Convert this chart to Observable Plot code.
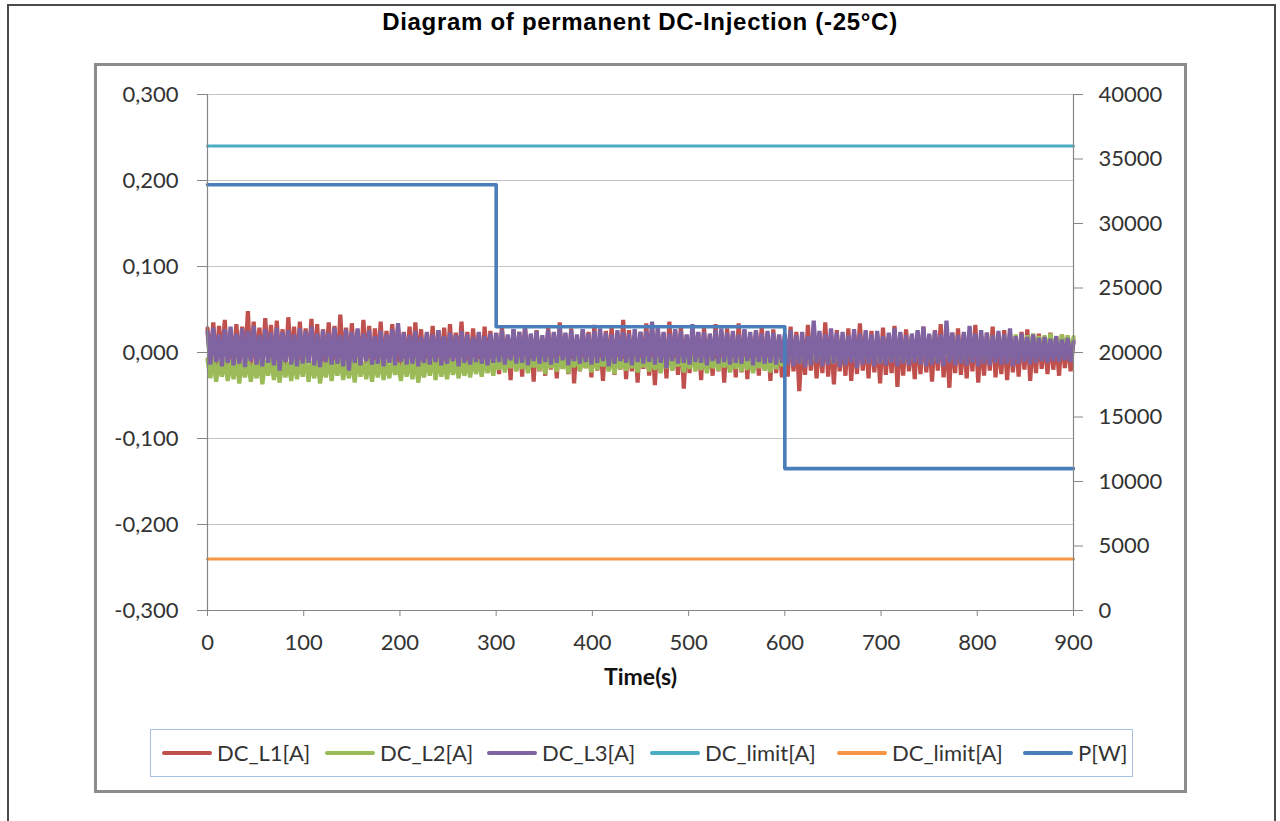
<!DOCTYPE html>
<html>
<head>
<meta charset="utf-8">
<script src="https://cdn.jsdelivr.net/npm/d3@7"></script>
<script src="https://cdn.jsdelivr.net/npm/@observablehq/plot@0.6"></script>
<style>
  html, body { margin: 0; padding: 0; background: #fff; }
  body { width: 1280px; height: 821px; overflow: hidden; position: relative; font-family: Lato, "Open Sans", sans-serif; }
  #outer { position: absolute; left: 7px; top: 4px; width: 1269px; height: 900px; border: 2px solid #4a4a4a; box-sizing: border-box; }
  #title { position: absolute; left: 0; top: 10px; width: 1280px; text-align: center; font: bold 24px/24px "Liberation Sans", Arial, sans-serif; letter-spacing: 0.7px; color: #000; }
  #frame { position: absolute; left: 94px; top: 63px; width: 1093px; height: 730px; border: 3px solid #8c8c8c; box-sizing: border-box; }
  #chart { position: absolute; left: 0; top: 0; }
  #legend { position: absolute; left: 150px; top: 729px; width: 983px; height: 48px; border: 1.5px solid #a7c1e3; box-sizing: border-box; }
  .item { position: absolute; top: 0; height: 45px; display: flex; align-items: center; font-size: 22px; color: #333; white-space: nowrap; }
  .sw { width: 50px; height: 4px; border-radius: 2px; margin-right: 5px; }
</style>
</head>
<body>
<div id="outer"></div>
<div id="title">Diagram of permanent DC-Injection (-25°C)</div>
<div id="frame"></div>
<div id="chart"></div>
<div id="legend"></div>
<script>
// ---- data ----
const T_STEP = 3; // seconds between samples of the DC current series
const xTicks = [0, 100, 200, 300, 400, 500, 600, 700, 800, 900];
const yTicks = [-0.3, -0.2, -0.1, 0, 0.1, 0.2, 0.3];
const pTicks = [0, 5000, 10000, 15000, 20000, 25000, 30000, 35000, 40000];

const seriesNames = ["DC_L1[A]", "DC_L2[A]", "DC_L3[A]", "DC_limit[A]", "DC_limit[A]", "P[W]"];
const seriesColors = ["#c0504d", "#9bbb59", "#8064a2", "#4bacc6", "#f79646", "#4a7ebb"];

const DC_L1 = [
 .028,-.012,.035,-.018,.031,-.008,.038,-.022,.026,-.015,
 .033,-.020,.030,-.010,.048,-.025,.036,-.014,.029,-.019,
 .040,-.012,.032,-.027,.037,-.016,.027,-.021,.041,-.013,
 .030,-.018,.036,-.024,.028,-.011,.039,-.017,.033,-.030,
 .027,-.014,.035,-.019,.031,-.022,.044,-.012,.029,-.026,
 .034,-.016,.026,-.020,.038,-.013,.031,-.025,.028,-.017,
 .036,-.021,.025,-.012,.033,-.018,.029,-.028,.024,-.015,
 .030,-.019,.035,-.014,.027,-.023,.022,-.016,.031,-.020,
 .026,-.012,.029,-.024,.033,-.017,.023,-.013,.036,-.021,
 .024,-.018,.028,-.015,.022,-.026,.030,-.014,.025,-.019,
 .022,-.025,.030,-.019,.018,-.032,.027,-.021,.024,-.028,
 .031,-.018,.020,-.034,.026,-.022,.017,-.027,.029,-.020,
 .023,-.030,.035,-.019,.021,-.025,.028,-.036,.019,-.022,
 .027,-.018,.024,-.029,.032,-.021,.018,-.033,.025,-.019,
 .030,-.026,.022,-.020,.038,-.031,.026,-.022,.020,-.035,
 .024,-.019,.034,-.027,.019,-.038,.028,-.023,.022,-.030,
 .036,-.021,.025,-.026,.031,-.042,.020,-.024,.027,-.019,
 .023,-.032,.029,-.020,.018,-.027,.033,-.022,.024,-.035,
 .028,-.019,.021,-.029,.034,-.023,.026,-.031,.019,-.021,
 .025,-.027,.030,-.020,.022,-.033,.027,-.024,.020,-.029,
 .018,-.028,.030,-.022,.024,-.045,.016,-.026,.032,-.021,
 .022,-.030,.019,-.024,.035,-.028,.020,-.037,.026,-.022,
 .017,-.027,.028,-.033,.021,-.025,.034,-.021,.019,-.030,
 .025,-.023,.020,-.036,.029,-.026,.018,-.024,.031,-.040,
 .022,-.027,.027,-.022,.019,-.031,.024,-.025,.030,-.023,
 .020,-.034,.026,-.021,.033,-.029,.018,-.041,.023,-.024,
 .028,-.026,.021,-.030,.024,-.022,.032,-.035,.019,-.027,
 .023,-.021,.030,-.029,.017,-.025,.026,-.032,.021,-.023,
 .019,-.028,.024,-.020,.027,-.033,.020,-.024,.022,-.019,
 .018,-.025,.023,-.020,.016,-.027,.021,-.018,.017,-.022,
 .015
];

const DC_L2 = [
 -.008,-.030,-.006,-.034,-.010,-.028,-.007,-.033,-.009,-.031,
 -.005,-.036,-.011,-.029,-.007,-.034,-.012,-.030,-.006,-.037,
 -.009,-.027,-.006,-.032,-.010,-.035,-.008,-.029,-.011,-.033,
 -.007,-.031,-.009,-.028,-.005,-.034,-.010,-.030,-.008,-.036,
 -.011,-.029,-.006,-.033,-.009,-.027,-.007,-.032,-.010,-.030,
 -.008,-.035,-.005,-.028,-.011,-.031,-.007,-.034,-.009,-.029,
 -.006,-.032,-.010,-.030,-.008,-.026,-.012,-.033,-.007,-.028,
 -.009,-.031,-.006,-.035,-.010,-.029,-.008,-.027,-.005,-.032,
 -.007,-.028,-.011,-.031,-.006,-.026,-.009,-.030,-.008,-.027,
 -.010,-.029,-.005,-.025,-.008,-.028,-.006,-.024,-.009,-.027,
 -.005,-.020,-.003,-.023,-.007,-.018,-.004,-.022,-.006,-.019,
 -.004,-.024,-.008,-.017,-.005,-.021,-.003,-.025,-.006,-.018,
 -.007,-.022,-.004,-.019,-.005,-.024,-.008,-.017,-.003,-.021,
 -.006,-.018,-.005,-.023,-.004,-.020,-.007,-.016,-.005,-.022,
 -.003,-.025,-.006,-.019,-.008,-.021,-.004,-.018,-.005,-.023,
 -.007,-.017,-.003,-.022,-.006,-.020,-.005,-.024,-.004,-.018,
 -.005,-.021,-.007,-.016,-.004,-.023,-.006,-.019,-.003,-.022,
 -.006,-.020,-.004,-.024,-.005,-.018,-.008,-.021,-.006,-.017,
 -.004,-.023,-.006,-.019,-.003,-.022,-.005,-.020,-.007,-.024,
 -.005,-.018,-.004,-.021,-.006,-.023,-.003,-.019,-.002,-.016,
 .006,-.012,.010,-.009,.008,-.013,.011,-.010,.009,-.014,
 .012,-.008,.010,-.011,.013,-.009,.011,-.013,.014,-.010,
 .010,-.012,.015,-.008,.012,-.011,.013,-.009,.016,-.012,
 .011,-.010,.014,-.013,.012,-.008,.015,-.011,.013,-.009,
 .016,-.012,.013,-.010,.017,-.009,.014,-.012,.015,-.008,
 .013,-.011,.016,-.009,.014,-.012,.018,-.010,.015,-.008,
 .017,-.010,.015,-.007,.018,-.011,.016,-.006,.019,-.009,
 .016,-.005,.020,-.008,.017,-.004,.019,-.007,.018,-.003,
 .021,-.006,.018,-.002,.020,-.005,.022,-.003,.019,-.001,
 .020,-.004,.022,-.001,.019,-.003,.021,.000,.020,-.002,
 .018
];

const DC_L3 = [
 .024,-.014,.029,-.011,.021,-.016,.027,-.012,.030,-.015,
 .022,-.013,.028,-.017,.025,-.010,.031,-.014,.020,-.016,
 .027,-.012,.023,-.015,.029,-.021,.024,-.011,.026,-.014,
 .021,-.016,.028,-.013,.025,-.012,.030,-.015,.022,-.017,
 .026,-.011,.023,-.014,.029,-.013,.020,-.016,.027,-.021,
 .024,-.012,.028,-.015,.022,-.010,.026,-.014,.019,-.013,
 .025,-.016,.021,-.012,.027,-.015,.034,-.011,.023,-.014,
 .020,-.013,.025,-.016,.018,-.012,.024,-.014,.021,-.011,
 .026,-.015,.019,-.013,.023,-.010,.020,-.016,.025,-.012,
 .021,-.014,.018,-.011,.024,-.013,.019,-.015,.022,-.012,
 .023,-.011,.026,-.014,.021,-.009,.027,-.013,.024,-.012,
 .028,-.015,.022,-.010,.025,-.013,.020,-.011,.026,-.014,
 .024,-.012,.029,-.009,.023,-.015,.026,-.010,.021,-.013,
 .027,-.011,.022,-.014,.025,-.012,.028,-.010,.023,-.016,
 .021,-.013,.026,-.010,.024,-.012,.022,-.015,.027,-.011,
 .024,-.013,.025,-.011,.036,-.014,.028,-.012,.024,-.018,
 .022,-.010,.027,-.013,.025,-.012,.021,-.014,.033,-.011,
 .024,-.012,.024,-.015,.022,-.010,.026,-.013,.028,-.011,
 .023,-.014,.025,-.012,.021,-.013,.027,-.010,.024,-.015,
 .026,-.011,.022,-.013,.025,-.012,.023,-.014,.021,-.012,
 .022,-.014,.026,-.016,.020,-.013,.024,-.017,.019,-.015,
 .037,-.012,.025,-.016,.021,-.014,.028,-.013,.023,-.017,
 .024,-.015,.020,-.012,.027,-.018,.022,-.014,.026,-.013,
 .021,-.016,.025,-.013,.019,-.015,.023,-.012,.028,-.016,
 .024,-.013,.020,-.015,.022,-.012,.026,-.014,.030,-.016,
 .022,-.014,.025,-.013,.021,-.016,.037,-.012,.023,-.015,
 .020,-.013,.024,-.015,.031,-.012,.022,-.016,.026,-.013,
 .023,-.015,.020,-.012,.025,-.014,.021,-.013,.028,-.016,
 .019,-.013,.022,-.011,.018,-.014,.021,-.012,.017,-.010,
 .018,-.012,.016,-.010,.019,-.011,.015,-.009,.017,-.011,
 .012
];

const limitTime = [0, 900];
const DC_limit_hi = [0.24, 0.24];
const DC_limit_lo = [-0.24, -0.24];

const P_time = [0, 300, 300, 600, 600, 900];
const P_W = [33000, 33000, 22000, 22000, 11000, 11000];

// ---- helpers ----
const P_MAX = 40000;
const pToY = p => -0.3 + p * 0.6 / P_MAX;              // secondary axis mapped onto the primary one
const yToP = y => Math.round((y + 0.3) * P_MAX / 0.6);
const sampled = arr => arr.map((v, i) => ({t: i * T_STEP, v}));
const paired = (ts, vs) => ts.map((t, i) => ({t, v: vs[i]}));
const fmtA = d => d.toFixed(3).replace(".", ",");

const AXIS = "#868686";
const TXT = "#333";
const NOISE_W = 4.2;

const plot = Plot.plot({
  width: 1280,
  height: 700,
  marginLeft: 207,
  marginRight: 207,
  marginTop: 94,
  marginBottom: 90,
  x: {domain: [0, 900]},
  y: {domain: [-0.3, 0.3]},
  style: {background: "transparent", fontFamily: "Lato, 'Open Sans', sans-serif", fontSize: "22px", color: TXT, overflow: "visible"},
  marks: [
    Plot.gridY(yTicks, {stroke: "#c4c4c4", strokeOpacity: 1, strokeWidth: 1}),
    Plot.line(sampled(DC_L1), {x: "t", y: "v", stroke: seriesColors[0], strokeWidth: NOISE_W, strokeLinejoin: "miter"}),
    Plot.line(sampled(DC_L2), {x: "t", y: "v", stroke: seriesColors[1], strokeWidth: NOISE_W, strokeLinejoin: "miter"}),
    Plot.line(sampled(DC_L3), {x: "t", y: "v", stroke: seriesColors[2], strokeWidth: NOISE_W, strokeLinejoin: "miter"}),
    Plot.line(paired(limitTime, DC_limit_hi), {x: "t", y: "v", stroke: seriesColors[3], strokeWidth: 3}),
    Plot.line(paired(limitTime, DC_limit_lo), {x: "t", y: "v", stroke: seriesColors[4], strokeWidth: 3}),
    Plot.line(paired(P_time, P_W), {x: "t", y: d => pToY(d.v), stroke: seriesColors[5], strokeWidth: 3.6, curve: "linear"}),
    Plot.ruleX([0], {stroke: AXIS, strokeWidth: 1.2}),
    Plot.ruleX([900], {stroke: AXIS, strokeWidth: 1.2}),
    Plot.ruleY([-0.3], {stroke: AXIS, strokeWidth: 1.2}),
    Plot.axisY(yTicks, {anchor: "left", tickSize: 10, tickPadding: 19, tickFormat: fmtA, stroke: AXIS, fill: TXT, label: null, fontSize: 22}),
    Plot.axisY(pTicks.map(pToY), {anchor: "right", tickSize: 9, tickPadding: 16, tickFormat: d => String(yToP(d)), stroke: AXIS, fill: TXT, label: null, fontSize: 22}),
    Plot.axisX(xTicks, {anchor: "bottom", tickSize: 6, tickPadding: 18, stroke: AXIS, fill: TXT, label: null, fontSize: 22}),
    Plot.text(["Time(s)"], {text: d => d, frameAnchor: "bottom", dy: 74, fontWeight: "bold", fontSize: 23, fill: "#111"})
  ]
});
document.getElementById("chart").appendChild(plot);

// ---- legend ----
const legendLeft = [11, 174, 336, 499, 686, 872]; // layout offsets inside the legend box
const legend = document.getElementById("legend");
seriesNames.forEach((name, i) => {
  const it = document.createElement("div");
  it.className = "item";
  it.style.left = legendLeft[i] + "px";
  const sw = document.createElement("div");
  sw.className = "sw";
  sw.style.background = seriesColors[i];
  const tx = document.createElement("span");
  tx.textContent = name;
  it.appendChild(sw);
  it.appendChild(tx);
  legend.appendChild(it);
});
</script>
</body>
</html>
